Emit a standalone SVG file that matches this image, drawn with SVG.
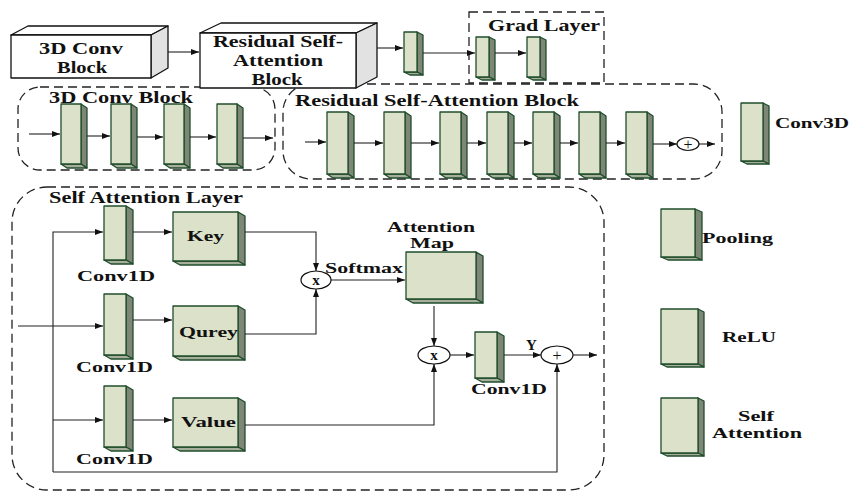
<svg xmlns="http://www.w3.org/2000/svg" width="850" height="493" viewBox="0 0 850 493">
<defs>
<marker id="ah" markerWidth="8" markerHeight="6" refX="8" refY="3" orient="auto" markerUnits="userSpaceOnUse">
<path d="M0,0 L8,3 L0,6 z" fill="#111"/>
</marker>
<style>
.f{fill:#dce1c9;stroke:#1f4d2b;stroke-width:1.3;stroke-linejoin:round}
.s{fill:#7e8676;stroke:#1f4d2b;stroke-width:1.3;stroke-linejoin:round}
.b{fill:#a7af9c;stroke:#1f4d2b;stroke-width:1.3;stroke-linejoin:round}
.wf{fill:#fff;stroke:#111;stroke-width:1.3;stroke-linejoin:round}
.ws{fill:#e2e2e2;stroke:#111;stroke-width:1.3;stroke-linejoin:round}
.dash{fill:none;stroke:#222;stroke-width:1.3;stroke-dasharray:9 5}
.ln{fill:none;stroke:#222;stroke-width:1.1}
.ar{fill:none;stroke:#222;stroke-width:1.1;marker-end:url(#ah)}
.op{fill:#fff;stroke:#111;stroke-width:1.2}
text{font-family:"Liberation Serif","Times New Roman",serif;font-weight:bold;fill:#111}
.t14{font-size:14px}
.t15{font-size:15px}
.t16{font-size:16px}
.t17{font-size:17px}
.sym{font-size:15px;text-anchor:middle}
.plus{font-size:16px;text-anchor:middle;font-weight:normal}
</style>
</defs>
<rect width="850" height="493" fill="#fff"/>

<!-- dashed containers -->
<g id="grad-layer">
<rect class="dash" x="469" y="12" width="135" height="71"/>
<text class="t16" x="488" y="31" textLength="112" lengthAdjust="spacingAndGlyphs">Grad Layer</text>
</g>
<g id="conv3d-block-group">
<rect class="dash" x="18" y="87" width="257" height="83" rx="22"/>
<text class="t16" x="49" y="103" textLength="144" lengthAdjust="spacingAndGlyphs">3D Conv Block</text>
</g>
<g id="residual-block-group">
<rect class="dash" x="283" y="84" width="439" height="95" rx="28"/>
<text class="t16" x="295" y="106" textLength="284" lengthAdjust="spacingAndGlyphs">Residual Self-Attention Block</text>
</g>
<g id="self-attention-layer">
<rect class="dash" x="12" y="187" width="592" height="303" rx="35"/>
<text class="t16" x="49" y="203" textLength="194" lengthAdjust="spacingAndGlyphs">Self Attention Layer</text>
</g>

<!-- top row -->
<g id="top-3dconv">
<polygon class="wf" points="11,35 28,26 168,26 151,35"/>
<polygon class="ws" points="151,35 168,26 168,68 151,78"/>
<rect class="wf" x="11" y="35" width="140" height="43"/>
<text class="t17" x="81" y="54" text-anchor="middle" textLength="84" lengthAdjust="spacingAndGlyphs">3D Conv</text>
<text class="t17" x="82" y="73" text-anchor="middle" textLength="50" lengthAdjust="spacingAndGlyphs">Block</text>
</g>
<g id="top-residual">
<polygon class="wf" points="200,33 221,23 377,23 356,33"/>
<polygon class="ws" points="356,33 377,23 377,77 356,88"/>
<rect class="wf" x="200" y="33" width="156" height="55"/>
<text class="t17" x="278" y="47" text-anchor="middle" textLength="130" lengthAdjust="spacingAndGlyphs">Residual Self-</text>
<text class="t17" x="278" y="66" text-anchor="middle" textLength="90" lengthAdjust="spacingAndGlyphs">Attention</text>
<text class="t17" x="277" y="85" text-anchor="middle" textLength="51" lengthAdjust="spacingAndGlyphs">Block</text>
</g>
<g id="top-small">
<polygon class="s" points="417,32 423,35 423,75 417,72"/>
<polygon class="b" points="404,72 417,72 423,75 410,75"/>
<rect class="f" x="404" y="32" width="13" height="40"/>
</g>
<g id="grad-block-1">
<polygon class="s" points="489,37 495,40 495,80 489,77"/>
<polygon class="b" points="476,77 489,77 495,80 482,80"/>
<rect class="f" x="476" y="37" width="13" height="40"/>
</g>
<g id="grad-block-2">
<polygon class="s" points="540,37 546,40 546,80 540,77"/>
<polygon class="b" points="527,77 540,77 546,80 533,80"/>
<rect class="f" x="527" y="37" width="13" height="40"/>
</g>

<!-- 3D conv block row -->
<g id="c3-1"><polygon class="s" points="81,104 87,108 87,168 81,164"/><polygon class="b" points="61,164 81,164 87,168 67,168"/><rect class="f" x="61" y="104" width="20" height="60"/></g>
<g id="c3-2"><polygon class="s" points="131,104 137,108 137,168 131,164"/><polygon class="b" points="111,164 131,164 137,168 117,168"/><rect class="f" x="111" y="104" width="20" height="60"/></g>
<g id="c3-3"><polygon class="s" points="184,104 190,108 190,168 184,164"/><polygon class="b" points="164,164 184,164 190,168 170,168"/><rect class="f" x="164" y="104" width="20" height="60"/></g>
<g id="c3-4"><polygon class="s" points="237,104 243,108 243,168 237,164"/><polygon class="b" points="217,164 237,164 243,168 223,168"/><rect class="f" x="217" y="104" width="20" height="60"/></g>

<!-- residual row -->
<g id="r-1"><polygon class="s" points="348,112 354,116 354,178 348,174"/><polygon class="b" points="327,174 348,174 354,178 333,178"/><rect class="f" x="327" y="112" width="21" height="62"/></g>
<g id="r-2"><polygon class="s" points="405,112 411,116 411,178 405,174"/><polygon class="b" points="384,174 405,174 411,178 390,178"/><rect class="f" x="384" y="112" width="21" height="62"/></g>
<g id="r-3"><polygon class="s" points="461,112 467,116 467,178 461,174"/><polygon class="b" points="440,174 461,174 467,178 446,178"/><rect class="f" x="440" y="112" width="21" height="62"/></g>
<g id="r-4"><polygon class="s" points="508,112 514,116 514,178 508,174"/><polygon class="b" points="487,174 508,174 514,178 493,178"/><rect class="f" x="487" y="112" width="21" height="62"/></g>
<g id="r-5"><polygon class="s" points="554,112 560,116 560,178 554,174"/><polygon class="b" points="533,174 554,174 560,178 539,178"/><rect class="f" x="533" y="112" width="21" height="62"/></g>
<g id="r-6"><polygon class="s" points="600,112 606,116 606,178 600,174"/><polygon class="b" points="579,174 600,174 606,178 585,178"/><rect class="f" x="579" y="112" width="21" height="62"/></g>
<g id="r-7"><polygon class="s" points="647,112 653,116 653,178 647,174"/><polygon class="b" points="626,174 647,174 653,178 632,178"/><rect class="f" x="626" y="112" width="21" height="62"/></g>
<g id="r-plus"><ellipse class="op" cx="688" cy="144" rx="11" ry="6.5"/><text class="plus" x="688" y="149.5">+</text></g>

<!-- legend -->
<g id="legend-conv3d"><polygon class="s" points="763,103 769,106 769,164 763,161"/><polygon class="b" points="741,161 763,161 769,164 747,164"/><rect class="f" x="741" y="103" width="22" height="58"/>
<text class="t15" x="775" y="128" textLength="74" lengthAdjust="spacingAndGlyphs">Conv3D</text></g>
<g id="legend-pooling"><polygon class="s" points="695,209 702,212 702,260 695,257"/><polygon class="b" points="661,257 695,257 702,260 668,260"/><rect class="f" x="661" y="209" width="34" height="48"/>
<text class="t15" x="702" y="243" textLength="71" lengthAdjust="spacingAndGlyphs">Pooling</text></g>
<g id="legend-relu"><polygon class="s" points="698,309 704,312 704,367 698,364"/><polygon class="b" points="661,364 698,364 704,367 667,367"/><rect class="f" x="661" y="309" width="37" height="55"/>
<text class="t15" x="722" y="342" textLength="54" lengthAdjust="spacingAndGlyphs">ReLU</text></g>
<g id="legend-selfattn"><polygon class="s" points="698,398 704,401 704,456 698,453"/><polygon class="b" points="661,453 698,453 704,456 667,456"/><rect class="f" x="661" y="398" width="37" height="55"/>
<text class="t14" x="738" y="421" textLength="36" lengthAdjust="spacingAndGlyphs">Self</text>
<text class="t14" x="712" y="438" textLength="90" lengthAdjust="spacingAndGlyphs">Attention</text></g>

<!-- self attention layer nodes -->
<g id="conv1d-1"><polygon class="s" points="126,206 133,210 133,264 126,260"/><polygon class="b" points="104,260 126,260 133,264 111,264"/><rect class="f" x="104" y="206" width="22" height="54"/>
<text class="t15" x="77" y="281" textLength="78" lengthAdjust="spacingAndGlyphs">Conv1D</text></g>
<g id="conv1d-2"><polygon class="s" points="126,294 133,298 133,359 126,355"/><polygon class="b" points="104,355 126,355 133,359 111,359"/><rect class="f" x="104" y="294" width="22" height="61"/>
<text class="t15" x="76" y="372" textLength="77" lengthAdjust="spacingAndGlyphs">Conv1D</text></g>
<g id="conv1d-4"><polygon class="s" points="126,386 133,390 133,451 126,447"/><polygon class="b" points="104,447 126,447 133,451 111,451"/><rect class="f" x="104" y="386" width="22" height="61"/>
<text class="t15" x="76" y="464" textLength="77" lengthAdjust="spacingAndGlyphs">Conv1D</text></g>
<g id="key"><polygon class="s" points="238,212 245,216 245,265 238,261"/><polygon class="b" points="173,261 238,261 245,265 180,265"/><rect class="f" x="173" y="212" width="65" height="49"/>
<text class="t15" x="187" y="241" textLength="37" lengthAdjust="spacingAndGlyphs">Key</text></g>
<g id="qurey"><polygon class="s" points="238,306 245,310 245,360 238,356"/><polygon class="b" points="173,356 238,356 245,360 180,360"/><rect class="f" x="173" y="306" width="65" height="50"/>
<text class="t15" x="179" y="337" textLength="59" lengthAdjust="spacingAndGlyphs">Qurey</text></g>
<g id="value"><polygon class="s" points="238,398 245,402 245,451 238,447"/><polygon class="b" points="173,447 238,447 245,451 180,451"/><rect class="f" x="173" y="398" width="65" height="49"/>
<text class="t15" x="181" y="427" textLength="55" lengthAdjust="spacingAndGlyphs">Value</text></g>
<g id="attention-map"><polygon class="s" points="476,252 483,256 483,303 476,299"/><polygon class="b" points="406,299 476,299 483,303 413,303"/><rect class="f" x="406" y="252" width="70" height="47"/>
<text class="t14" x="387" y="232" textLength="88" lengthAdjust="spacingAndGlyphs">Attention</text>
<text class="t14" x="410" y="248" textLength="44" lengthAdjust="spacingAndGlyphs">Map</text></g>
<g id="conv1d-3"><polygon class="s" points="497,332 504,336 504,382 497,378"/><polygon class="b" points="475,378 497,378 504,382 482,382"/><rect class="f" x="475" y="332" width="22" height="46"/>
<text class="t15" x="471" y="394" textLength="76" lengthAdjust="spacingAndGlyphs">Conv1D</text></g>
<g id="mul-1"><ellipse class="op" cx="316" cy="280" rx="15" ry="9"/><text class="sym" x="316" y="284.5">x</text></g>
<g id="mul-2"><ellipse class="op" cx="434" cy="355" rx="16" ry="9"/><text class="sym" x="434" y="359.5">x</text></g>
<g id="add"><ellipse class="op" cx="557" cy="355" rx="16" ry="9"/><text class="plus" x="557" y="360.5">+</text></g>
<text class="t15" x="325" y="273" textLength="78" lengthAdjust="spacingAndGlyphs">Softmax</text>
<text class="t15" x="526" y="350">Y</text>

<!-- connectors -->
<g id="connectors">
<path class="ar" d="M168,52 H199"/>
<path class="ar" d="M377,48 H403"/>
<path class="ar" d="M423,53 H475"/>
<path class="ar" d="M495,53 H526"/>
<path class="ar" d="M29,134 H60"/>
<path class="ar" d="M87,136 H110"/>
<path class="ar" d="M137,137 H163"/>
<path class="ar" d="M190,137 H216"/>
<path class="ar" d="M243,138 H273"/>
<path class="ar" d="M305,142 H326"/>
<path class="ar" d="M354,143 H383"/>
<path class="ar" d="M411,143 H439"/>
<path class="ar" d="M467,143 H486"/>
<path class="ar" d="M514,143 H532"/>
<path class="ar" d="M560,143 H578"/>
<path class="ar" d="M606,143 H625"/>
<path class="ar" d="M653,144 H677"/>
<path class="ar" d="M699,144 H715"/>
<path class="ar" d="M18,326 H103"/>
<path class="ar" d="M53,472 V232 H103"/>
<path class="ar" d="M53,420 H103"/>
<path class="ar" d="M133,232 H172"/>
<path class="ar" d="M133,320 H172"/>
<path class="ar" d="M133,420 H172"/>
<path class="ar" d="M245,232 H316 V271"/>
<path class="ar" d="M245,334 H316 V289"/>
<path class="ar" d="M331,280 H405"/>
<path class="ar" d="M434,306 V346"/>
<path class="ar" d="M450,355 H474"/>
<path class="ar" d="M504,355 H541"/>
<path class="ar" d="M573,355 H597"/>
<path class="ar" d="M245,425 H434 V364"/>
<path class="ar" d="M53,472 H557 V364"/>
</g>
</svg>
